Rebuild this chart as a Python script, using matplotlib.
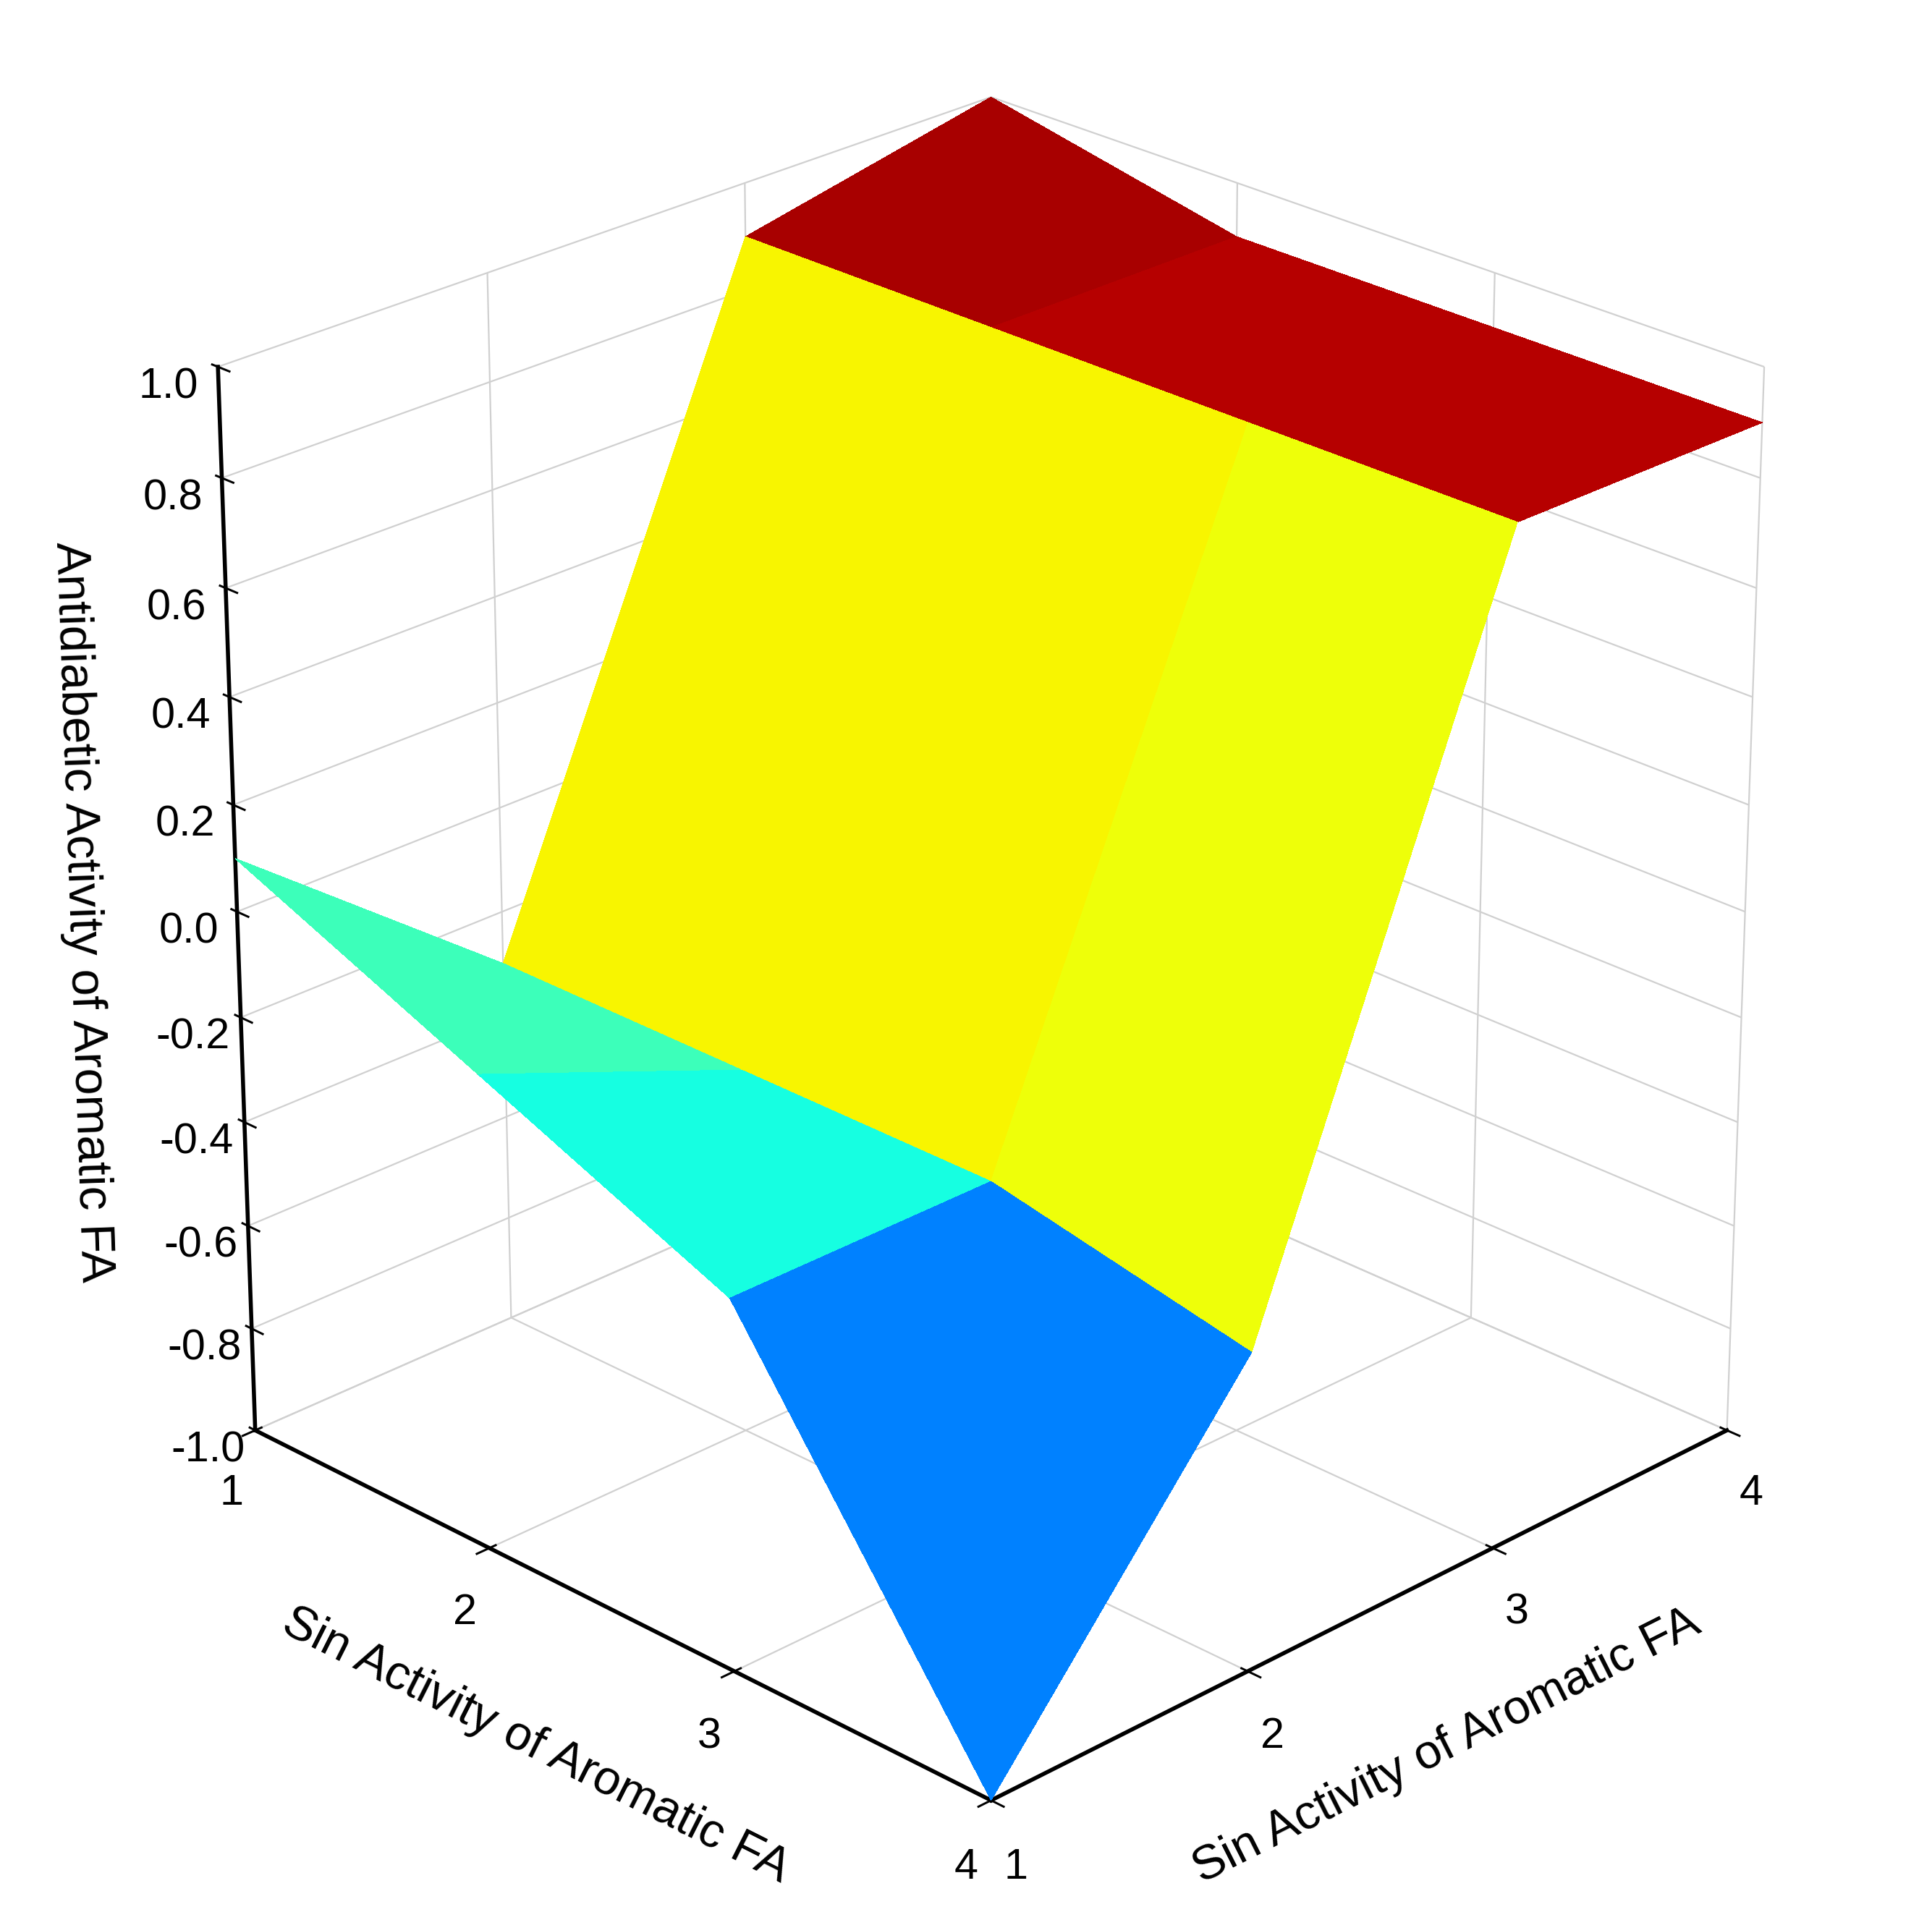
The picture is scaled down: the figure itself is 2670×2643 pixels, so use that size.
import numpy as np
import matplotlib.pyplot as plt

plt.rcParams['font.family'] = ['Liberation Sans', 'DejaVu Sans']
plt.rcParams['axes.unicode_minus'] = False

# grid values read from the surface (4 x 4)
x_vals = [1, 2, 3, 4]   # left axis
y_vals = [1, 2, 3, 4]   # right axis
# rows: right-axis value 1..4, columns: left-axis value 1..4
z_vals = [
    [0.1, -0.1, -0.3, -1.0],
    [-0.3, -0.3, -0.3, -0.4],
    [0.9, 0.9, 0.9, 0.9],
    [1.0, 0.9, 0.9, 0.9],
]

X, Y = np.meshgrid(x_vals, y_vals)
Z = np.array(z_vals)

fig = plt.figure(figsize=(10.0, 9.9), dpi=267)
ax = fig.add_subplot(111, projection='3d')
ax.plot_surface(X, Y, Z, cmap='jet', vmin=-1, vmax=1, linewidth=0,
                antialiased=False, shade=False)
ax.contour(X, Y, Z, levels=np.linspace(-1, 1, 21), colors='#333333', linewidths=0.5)

ax.set_xlim(1, 4)
ax.set_ylim(1, 4)
ax.set_zlim(-1, 1)
ax.set_xticks([1, 2, 3, 4])
ax.set_yticks([1, 2, 3, 4])
ax.set_zticks(np.round(np.arange(-1, 1.01, 0.2), 1))
ax.set_xlabel('Sin Activity of Aromatic FA', fontsize=18, labelpad=14)
ax.set_ylabel('Sin Activity of Aromatic FA', fontsize=18, labelpad=14)
ax.set_zlabel('Antidiabetic Activity of Aromatic FA', fontsize=18, labelpad=16)
ax.tick_params(labelsize=16)

for axis in (ax.xaxis, ax.yaxis, ax.zaxis):
    axis.set_pane_color((1, 1, 1, 0))
    axis._axinfo['grid']['color'] = '#d0d0d0'
    axis._axinfo['grid']['linewidth'] = 0.6
    axis.line.set_linewidth(1.5)
# put the vertical axis on the left side
ax.zaxis._axinfo['juggled'] = (1, 2, 0)

ax.view_init(elev=25, azim=-45)
ax.set_box_aspect((1, 1, 1.1))
plt.subplots_adjust(left=0.02, right=0.98, bottom=0.02, top=1)
plt.savefig('out.png', dpi=267)
